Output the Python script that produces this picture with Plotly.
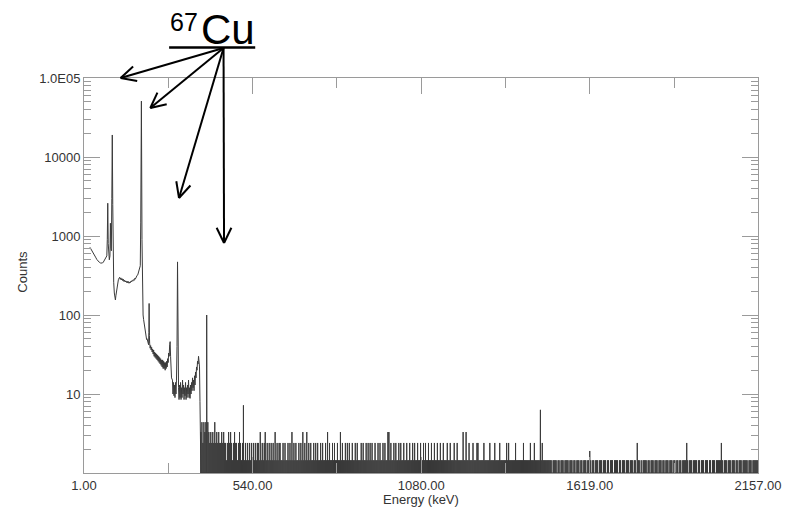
import math
import plotly.graph_objects as go

# ---------------- data ----------------
# low-energy part of the spectrum: energy (keV) and counts
low_keV = [
    20, 23, 26, 30, 34, 38, 42, 46, 50, 54, 57, 60, 63, 66, 69, 72, 74,
    75.5, 77, 78.5, 80, 82, 84, 85.5, 87, 88.5, 90, 91.5, 93, 94.5, 96, 98,
    100, 101.5, 103, 105, 107, 109, 111, 113,
    115, 117, 119, 121, 123, 125, 127, 129, 131, 133, 135, 137, 139, 141,
    143, 145, 147, 149, 151, 153, 155, 157, 159, 161, 163, 165, 167, 169,
    171, 173, 175, 177, 179, 181,
    182.5, 184.6, 186.5, 188.5,
    190, 191.6, 193.2, 194.8, 196.4, 198, 199.6, 201.2, 202.8, 204.4, 206,
    207.6, 208.5, 209.3, 210.2, 211, 212.6, 214.2, 215.8, 217.4, 219, 220.6,
    222.2, 223.8, 225.4, 227, 228.6, 230.2, 231.8, 233.4, 235, 236.6, 238.2,
    239.8, 241.4, 243, 244.6, 246.2, 247.8, 249.4, 251, 252.6, 254.2, 255.8,
    257.4, 259, 260.6, 262.2, 263.8, 265.4, 267, 268.6, 270.2, 271.8, 273.4,
    275, 276.5, 278, 279.5, 281,
    284, 285.6, 287.2, 288.8, 290.4, 292, 293.6, 295.2, 296.8, 298.5, 300.2,
    301.8, 303.4, 305, 306.6, 308.2, 309.8, 311.4, 313, 314.6, 316.2, 317.8,
    319.4, 321, 322.6, 324.2, 325.8, 327.4, 329, 330.6, 332.2, 333.8, 335.4,
    337, 338.6, 340.2, 341.8, 343.4, 345, 346.6, 348.2, 349.8, 351.4, 353,
    354.6, 356.2, 357.8, 359.4, 361, 362.6, 364.2, 365.8, 367.4, 369, 370.5,
    372, 373.5,
]
low_counts = [
    720, 690, 655, 615, 575, 540, 505, 480, 465, 455, 450, 455, 468, 490, 510, 535, 560,
    900, 2600, 800, 520, 500, 560, 1450, 700, 650, 3000, 19000, 2500, 500, 260, 190,
    160, 155, 175, 205, 235, 260, 280, 292,
    300, 282, 295, 278, 288, 272, 283, 265, 276, 262, 270, 258, 268, 255,
    265, 252, 262, 256, 268, 262, 274, 268, 280, 274, 290, 284, 298, 300,
    318, 322, 340, 355, 375, 420,
    1500, 51000, 900, 140,
    100, 88, 80, 68, 64, 56, 55, 49, 50, 45, 47,
    42, 60, 140, 55, 44, 38, 41, 36, 39, 34, 37,
    32, 36, 30, 34, 29, 33, 28, 32, 27, 31, 26,
    30, 25, 29, 24, 28, 23, 27, 22, 27, 21, 26,
    21, 25, 20, 25, 21, 26, 22, 28, 25, 33, 30,
    42, 46, 30, 20, 16,
    15, 10, 14, 9.5, 13, 9, 14, 10, 15, 40, 470,
    30, 12, 8.5, 13, 9, 14, 8.5, 12, 9, 15, 10,
    13, 8.5, 12, 9.5, 14, 8.5, 12, 9, 13, 10, 15,
    9, 12, 8.8, 13, 10, 14, 11, 16, 12, 15, 11,
    17, 13, 19, 16, 22, 20, 26, 24, 30, 27, 22,
    8, 4,
]

# high-energy tail: one character per channel bin (level code), read column by column
tail_start_keV = 375.0
tail_bin_keV = 3.165
tail_codes = (
    "4535453543" "4343534343" "3434331343" "4313433134" "3134131313"
    "1313131331" "4131341313" "1313141313" "3113131131" "3141313113"
    "1314131413" "1311313131" "1313113141" "3113131131" "1413113131"
    "3113113131" "1131311313" "1313113113" "1311313114" "4131131311"
    "3131131131" "1311313113" "1131131311" "3113113113" "1131131113"
    "1131113113" "1111141141" "1311131113" "3111113111" "1131111311"
    "1131111113" "1311111131" "1111113111" "1113111311" "1111131111"
    "1111101111" "0110111011" "1101110110" "1110110111" "0112101101"
    "1101110111" "0110111011" "1101101110" "1110111011" "0311010111"
    "1011011101" "1101110110" "1110111011" "0110110111" "1310111011"
    "1101101110" "1110110111" "0111113101" "1101110111" "0110111011"
    "1110111011" "1111"
)
code_levels = {"0": 1.0, "1": 1.45, "2": 1.9, "3": 2.4, "4": 3.3, "5": 4.4}

# isolated lines in the tail
tail_peak_keV = [393.5, 511.0, 1461.0]
tail_peak_counts = [100, 7.2, 6.3]

x_tick_vals = [1, 540, 1080, 1619, 2157]
x_tick_text = ["1.00", "540.00", "1080.00", "1619.00", "2157.00"]
x_minor_vals = [270, 810, 1350, 1890]
y_tick_vals = [1e5, 1e4, 1e3, 1e2, 1e1]
y_tick_text = ["1.0E05", "10000", "1000", "100", "10"]
y_minor_vals = [m * 10 ** d for d in range(0, 5) for m in range(2, 10)]

# ---------------- build traces ----------------
needles = [(tail_start_keV + i * tail_bin_keV, code_levels[c]) for i, c in enumerate(tail_codes)]
needles += list(zip(tail_peak_keV, tail_peak_counts))
needles.sort()
tx, ty = [], []
for e, v in needles:
    if v > 1.0:
        tx += [e, e, e]
        ty += [1.0, v, 1.0]

fig = go.Figure()
fig.add_trace(go.Scatter(
    x=low_keV + tx, y=low_counts + ty, mode="lines",
    line=dict(color="#3a3a3a", width=1), hoverinfo="skip", showlegend=False,
))

# ---------------- layout ----------------
W, H = 794, 512
L, R, T, B = 84, 765, 78, 473
FONT = "Liberation Sans, Arial, sans-serif"


def px(x):
    return (x - L) / (R - L)


def py(y):
    return (B - y) / (B - T)


axis_col = "#9a9a9a"
fig.update_layout(
    width=W, height=H,
    margin=dict(l=L, r=W - R, t=T, b=H - B, pad=0),
    paper_bgcolor="white", plot_bgcolor="white",
    font=dict(family=FONT, color="#333", size=13),
    xaxis=dict(
        range=[1, 2157], showgrid=False, zeroline=False,
        showline=True, linecolor=axis_col, linewidth=1, mirror="ticks",
        ticks="inside", ticklen=16, tickcolor=axis_col, tickwidth=1,
        tickvals=x_tick_vals, ticktext=x_tick_text,
        tickfont=dict(size=13, color="#333"),
        minor=dict(tickvals=x_minor_vals, ticks="inside", ticklen=10, tickcolor=axis_col),
    ),
    yaxis=dict(
        type="log", range=[0, 5], showgrid=False, zeroline=False,
        showline=True, linecolor=axis_col, linewidth=1, mirror="ticks",
        ticks="inside", ticklen=16, tickcolor=axis_col, tickwidth=1,
        tickvals=y_tick_vals, ticktext=y_tick_text,
        tickfont=dict(size=13, color="#333"),
        minor=dict(tickvals=y_minor_vals, ticks="inside", ticklen=7, tickcolor=axis_col),
    ),
)

annotations = [
    dict(text="Energy (keV)", x=px(425), y=py(500), xref="paper", yref="paper",
         xanchor="center", yanchor="middle",
         showarrow=False, font=dict(size=13, color="#333")),
    dict(text="Counts", x=px(21), y=py(272), xref="paper", yref="paper",
         xanchor="center", yanchor="middle",
         showarrow=False, textangle=-90, font=dict(size=13, color="#333")),
    dict(text="67", x=px(169), y=py(22), xref="paper", yref="paper",
         xanchor="left", yanchor="middle",
         showarrow=False, font=dict(size=25, color="black")),
    dict(text="Cu", x=px(200), y=py(29), xref="paper", yref="paper",
         xanchor="left", yanchor="middle",
         showarrow=False, font=dict(size=42, color="black")),
]
fig.update_layout(annotations=annotations)

shapes = [dict(type="line", xref="paper", yref="paper", x0=px(170), x1=px(257),
               y0=py(47.5), y1=py(47.5), line=dict(color="black", width=2.5))]
tail = (225, 48)
heads = [(121, 78), (151, 108), (180, 198), (225.5, 243)]
arm_len, arm_ang = 17, math.radians(26)
for hx, hy in heads:
    shapes.append(dict(type="line", xref="paper", yref="paper",
                       x0=px(tail[0]), y0=py(tail[1]), x1=px(hx), y1=py(hy),
                       line=dict(color="black", width=2)))
    dx, dy = tail[0] - hx, tail[1] - hy
    n = math.hypot(dx, dy)
    dx, dy = dx / n, dy / n
    for s in (1, -1):
        c, si = math.cos(s * arm_ang), math.sin(s * arm_ang)
        ex = hx + arm_len * (dx * c - dy * si)
        ey = hy + arm_len * (dx * si + dy * c)
        shapes.append(dict(type="line", xref="paper", yref="paper",
                           x0=px(hx), y0=py(hy), x1=px(ex), y1=py(ey),
                           line=dict(color="black", width=2)))
fig.update_layout(shapes=shapes)

fig.write_html("out.html")
